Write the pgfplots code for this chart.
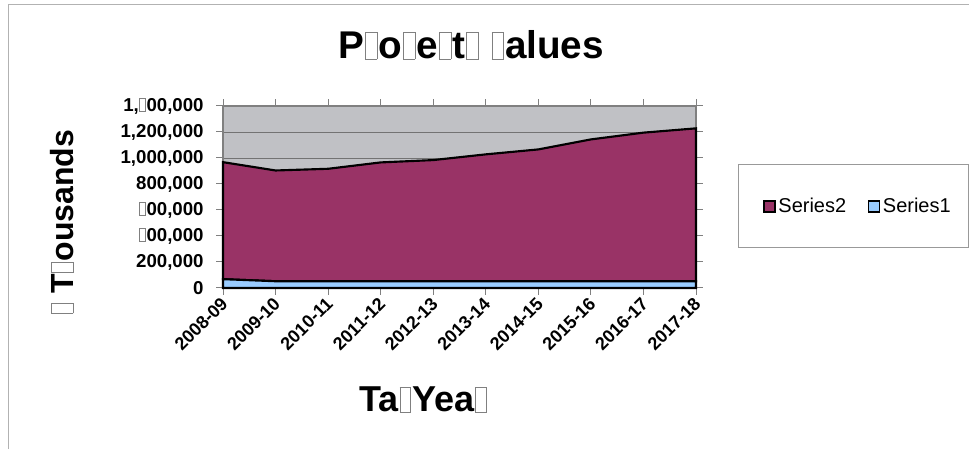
\documentclass[border=0pt]{standalone}
\usepackage{pgfplots}
\pgfplotsset{compat=1.18}
\usepackage{fontspec}
\setmainfont{Liberation Sans}
\definecolor{s2}{RGB}{153,51,102}
\definecolor{s1}{RGB}{153,204,255}
\definecolor{bg}{RGB}{192,193,197}
\newcommand{\mg}{\hspace{0.03em}{\color{gray}\setlength{\fboxsep}{0pt}\setlength{\fboxrule}{0.5pt}\fbox{\rule{0pt}{0.68em}\hspace{0.28em}}}\hspace{0.03em}}
\begin{document}
\begin{tikzpicture}[x=0.75pt,y=0.75pt]
\useasboundingbox (0,0) rectangle (969,449);
\draw[gray!60, line width=0.75pt] (8,0) -- (8,444) -- (969,444);
\node[anchor=base, font=\bfseries\fontsize{29}{34}\selectfont] at (471,390) {P\mg o\mg e\mg t\mg\ \mg alues};
\node[anchor=base, font=\bfseries\fontsize{27}{32}\selectfont] at (423,37) {Ta\mg Yea\mg};
\node[rotate=90, anchor=base, font=\bfseries\fontsize{24}{28}\selectfont] at (73,227) {\mg\ T\mg ousands};
\begin{axis}[
  at={(167.25pt,120.75pt)}, anchor=south west,
  width=354.75pt, height=136.5pt, scale only axis,
  xmin=0, xmax=9, ymin=0, ymax=1400000,
  xtick={0,...,9},
  xticklabels={2008-09,2009-10,2010-11,2011-12,2012-13,2013-14,2014-15,2015-16,2016-17,2017-18},
  ytick={0,200000,400000,600000,800000,1000000,1200000,1400000},
  yticklabels={0,{200,000},{\mg00,000},{\mg00,000},{800,000},{1,000,000},{1,200,000},{1,\mg00,000}},
  scaled y ticks=false,
  /pgf/number format/assume math mode=true,
  tick align=outside, major tick length=5pt,
  tick style={gray, line width=0.75pt},
  ymajorgrids, grid style={gray!90!black, line width=0.6pt},
  axis background/.style={fill=bg},
  axis line style={gray, line width=1pt},
  x tick label style={rotate=45, anchor=east, font=\bfseries\fontsize{13.5}{15}\selectfont, yshift=-4pt, xshift=1pt},
  y tick label style={font=\bfseries\fontsize{14}{16}\selectfont, xshift=-6pt},
  stack plots=y, clip=false,
  reverse legend, legend columns=2,
  legend style={draw=none, fill=none, at={(1.343,0.448)}, anchor=center,
    font=\fontsize{15}{18}\selectfont,
    /tikz/every even column/.append style={column sep=14pt}},
  legend image code/.code={\draw[#1, draw=black, line width=1.1pt] (0pt,-4.2pt) rectangle (8.4pt,4.2pt);},
]
\addplot[fill=s1, draw=black, line width=1.6pt] coordinates {(0,68000) (1,52000) (2,52000) (3,52000) (4,52000) (5,52000) (6,52000) (7,52000) (8,52000) (9,52000)} \closedcycle;
\addlegendentry{Series1}
\addplot[fill=s2, draw=black, line width=1.6pt] coordinates {(0,900000) (1,852000) (2,865000) (3,914000) (4,932000) (5,976000) (6,1014000) (7,1091000) (8,1143000) (9,1176000)} \closedcycle;
\addlegendentry{Series2}
\end{axis}
\draw[gray!80, line width=0.75pt] (738,284) rectangle (968,201);
\end{tikzpicture}
\end{document}
